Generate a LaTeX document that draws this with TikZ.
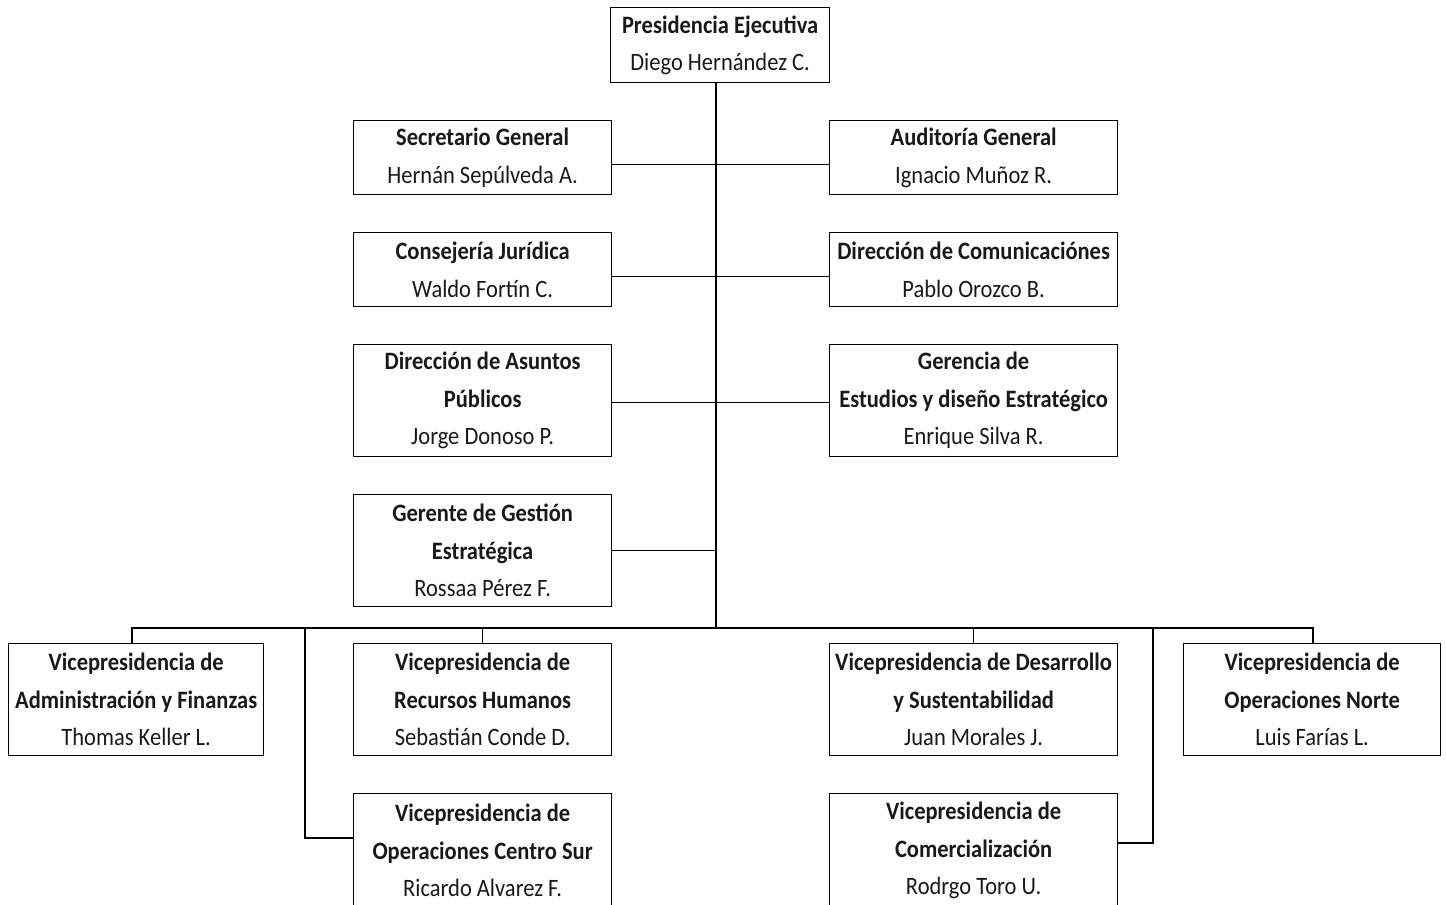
\documentclass[tikz,border=0pt]{standalone}
\usepackage{fontspec}
\setmainfont{Carlito}[FakeStretch=0.9]
\tikzset{
  orgbox/.style={draw=black, line width=1.3pt, inner sep=0pt, align=center, anchor=north west,
    font=\fontsize{25}{37.5}\selectfont, text=black!90},
  link/.style={draw=black, line width=1.3pt}
}
\begin{document}
\begin{tikzpicture}[x=1pt,y=-1pt]
\useasboundingbox (0,0) rectangle (1446,905);
\node[orgbox, minimum width=219pt, minimum height=75pt] (pres) at (610,7) {\textbf{Presidencia Ejecutiva}\\Diego Hernández C.};
\node[orgbox, minimum width=258pt, minimum height=74pt] (sec) at (353,120) {\textbf{Secretario General}\\Hernán Sepúlveda A.};
\node[orgbox, minimum width=288pt, minimum height=74pt] (aud) at (829,120) {\textbf{Auditoría General}\\Ignacio Muñoz R.};
\node[orgbox, minimum width=258pt, minimum height=74pt] (cons) at (353,232) {\textbf{Consejería Jurídica}\\Waldo Fortín C.};
\node[orgbox, minimum width=288pt, minimum height=74pt] (comu) at (829,232) {\textbf{Dirección de Comunicaciónes}\\Pablo Orozco B.};
\node[orgbox, minimum width=258pt, minimum height=112pt] (asun) at (353,344) {\textbf{Dirección de Asuntos}\\\textbf{Públicos}\\Jorge Donoso P.};
\node[orgbox, minimum width=288pt, minimum height=112pt] (estu) at (829,344) {\textbf{Gerencia de}\\\textbf{Estudios y diseño Estratégico}\\Enrique Silva R.};
\node[orgbox, minimum width=258pt, minimum height=112pt] (ger) at (353,494) {\textbf{Gerente de Gestión}\\\textbf{Estratégica}\\Rossaa Pérez F.};
\node[orgbox, minimum width=255pt, minimum height=112pt] (adm) at (8,643) {\textbf{Vicepresidencia de}\\\textbf{Administración y Finanzas}\\Thomas Keller L.};
\node[orgbox, minimum width=258pt, minimum height=112pt] (rrhh) at (353,643) {\textbf{Vicepresidencia de}\\\textbf{Recursos Humanos}\\Sebastián Conde D.};
\node[orgbox, minimum width=288pt, minimum height=112pt] (desa) at (829,643) {\textbf{Vicepresidencia de Desarrollo}\\\textbf{y Sustentabilidad}\\Juan Morales J.};
\node[orgbox, minimum width=257pt, minimum height=112pt] (nort) at (1183,643) {\textbf{Vicepresidencia de}\\\textbf{Operaciones Norte}\\Luis Farías L.};
\node[orgbox, minimum width=258pt, minimum height=114pt] (csur) at (353,793) {\textbf{Vicepresidencia de}\\\textbf{Operaciones Centro Sur}\\Ricardo Alvarez F.};
\node[orgbox, minimum width=288pt, minimum height=114pt] (come) at (829,793) {\textbf{Vicepresidencia de}\\\textbf{Comercialización}\\Rodrgo Toro U.};
\coordinate (trunk) at (716,628);
\coordinate (busL) at (132,628);
\coordinate (busR) at (1313,628);
\coordinate (csJ) at (305,838);
\coordinate (coJ) at (1153,843);
\draw[link] (pres.south -| trunk) -- (trunk);
\draw[link] ([yshift=-7pt]sec.east) -- ([yshift=-7pt]aud.west);
\draw[link] ([yshift=-7pt]cons.east) -- ([yshift=-7pt]comu.west);
\draw[link] ([yshift=-2pt]asun.east) -- ([yshift=-2pt]estu.west);
\draw[link] (ger.east) -- (ger.east -| trunk);
\draw[link] (adm.north -| busL) -- (busL) -- (busR) -- (nort.north -| busR);
\draw[link] (rrhh.north) -- (rrhh.north |- busL);
\draw[link] (desa.north) -- (desa.north |- busL);
\draw[link] (csJ |- busL) -- (csJ) -- (csJ -| csur.west);
\draw[link] (coJ |- busL) -- (coJ) -- (coJ -| come.east);
\end{tikzpicture}
\end{document}
